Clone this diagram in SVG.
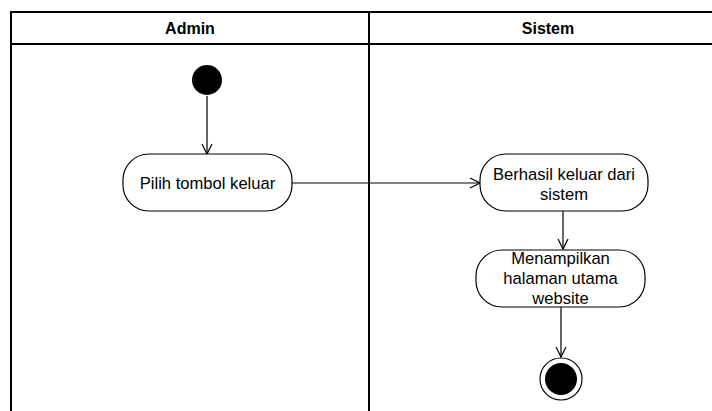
<svg xmlns="http://www.w3.org/2000/svg" width="712" height="411" viewBox="0 0 712 411">
<style>
.lane{fill:none;stroke:#000;stroke-width:2}
.hdr{font-family:"Liberation Sans",Arial,sans-serif;font-size:16px;font-weight:bold;text-anchor:middle;fill:#000}
.node rect{fill:#fff;stroke:#000;stroke-width:1.2}
.lbl{font-family:"Liberation Sans",Arial,sans-serif;font-size:16.6px;text-anchor:middle;fill:#000}
.edge{fill:none;stroke:#000;stroke-width:1.2;marker-end:url(#arr)}
</style>
<defs>
<marker id="arr" viewBox="0 0 12 12" refX="11" refY="6" markerWidth="12" markerHeight="12" markerUnits="userSpaceOnUse" orient="auto">
<path d="M1,1 L11,6 L1,11" fill="none" stroke="#000" stroke-width="1.2"/>
</marker>
</defs>
<g id="pool">
<path class="lane" d="M11,420 V12 H720 M11,44 H720 M369,12 V420"/>
<text class="hdr" x="190" y="34">Admin</text>
<text class="hdr" x="548" y="34">Sistem</text>
</g>
<g id="connectors">
<path class="edge" d="M207,96 V154"/>
<path class="edge" d="M292,183 H480"/>
<path class="edge" d="M563,211 V249"/>
<path class="edge" d="M561,307 V357"/>
</g>
<g id="start"><circle cx="207" cy="80" r="15" fill="#000"/></g>
<g id="n1" class="node">
<rect x="123" y="154" width="169" height="57" rx="26"/>
<text class="lbl" x="207.5" y="189">Pilih tombol keluar</text>
</g>
<g id="n2" class="node">
<rect x="480" y="154" width="168" height="57" rx="26"/>
<text class="lbl" x="564" y="180">Berhasil keluar dari</text>
<text class="lbl" x="564" y="200">sistem</text>
</g>
<g id="n3" class="node">
<rect x="476" y="250" width="169" height="57" rx="26"/>
<text class="lbl" x="560.5" y="264">Menampilkan</text>
<text class="lbl" x="560.5" y="284">halaman utama</text>
<text class="lbl" x="560.5" y="304">website</text>
</g>
<g id="end">
<circle cx="561" cy="379" r="21" fill="#fff" stroke="#000" stroke-width="1.2"/>
<circle cx="561" cy="379" r="16" fill="#000"/>
</g>
</svg>
